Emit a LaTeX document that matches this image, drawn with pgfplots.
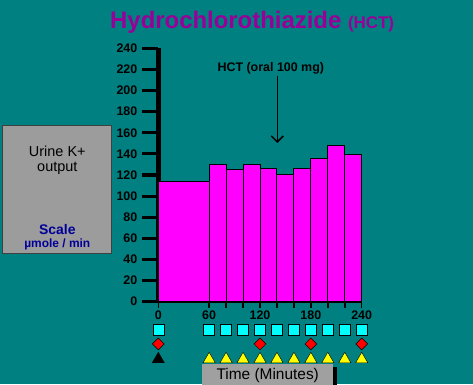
\documentclass[border=0pt]{standalone}
\usepackage{pgfplots}
\pgfplotsset{compat=1.18}
\usetikzlibrary{arrows.meta}
\usepackage{fontspec}
\setmainfont{Liberation Sans}
\definecolor{bgteal}{HTML}{008080}
\definecolor{titlepurple}{HTML}{990099}
\definecolor{barmag}{HTML}{FF00FF}
\definecolor{boxgray}{HTML}{9C9C9C}
\definecolor{timegray}{HTML}{A0A0A0}
\definecolor{scaleblue}{HTML}{000099}
\definecolor{mkcyan}{RGB}{0,255,255}
\definecolor{mkred}{RGB}{255,0,0}
\definecolor{mkyellow}{RGB}{255,255,0}
\begin{document}
\begin{tikzpicture}[x=1bp,y=1bp]
\useasboundingbox (0,0) rectangle (473,384);
\fill[bgteal] (0,0) rectangle (473,384);
% title
\node[anchor=base west, inner sep=0, text=titlepurple, font=\bfseries\fontsize{24}{24}\selectfont] at (110,355.7) {Hydrochlorothiazide {\fontsize{17}{17}\selectfont (HCT)}};
% left box
\draw[draw=black!75, fill=boxgray, line width=1bp] (2.7,131) rectangle (111,259);
\node[anchor=base, inner sep=0, font=\fontsize{14.5}{14.5}\selectfont] at (57.3,227.3) {Urine K+};
\node[anchor=base, inner sep=0, font=\fontsize{14.5}{14.5}\selectfont] at (57.3,212.3) {output};
\node[anchor=base, inner sep=0, text=scaleblue, font=\bfseries\fontsize{14}{14}\selectfont] at (57.3,150) {Scale};
\node[anchor=base, inner sep=0, text=scaleblue, font=\bfseries\fontsize{12}{12}\selectfont] at (57.3,136.3) {µmole / min};
% annotation
\node[anchor=base, inner sep=0, font=\bfseries\fontsize{12.5}{12.5}\selectfont] at (270.8,312.3) {HCT (oral 100 mg)};
\draw[line width=1.5bp, -{Straight Barb[length=6bp,width=12bp]}] (277.3,308.3) -- (277.3,241);
\begin{axis}[
  x=0.8475bp, y=1.056bp,
  anchor=south west, at={(158.3bp,82.3bp)},
  xmin=0, xmax=240, ymin=0, ymax=240,
  clip=false,
  axis x line=bottom, axis y line=left,
  axis line style={-},
  x axis line style={-, line width=3bp, black},
  y axis line style={-, line width=4.5bp, black},
  tick align=outside,
  major tick length=16.5bp,
  minor tick length=6bp,
  ytick={0,20,...,240},
  xtick={0,60,120,180,240},
  minor xtick={0,60,80,100,120,140,160,180,200,220,240},
  major x tick style={draw=none},
  minor x tick style={line width=1.5bp, black},
  y tick style={line width=3.2bp, black},
  /pgf/number format/assume math mode=true,
  tick label style={font=\bfseries\fontsize{12.5}{12.5}\selectfont, text=black},
  xticklabel style={yshift=11bp},
  yticklabel style={xshift=-1bp},
]
\addplot[ybar interval, fill=barmag, draw=black, line width=1bp] coordinates {
  (0,114) (60,130) (80,125) (100,130) (120,126) (140,120) (160,126) (180,136) (200,148) (220,139) (240,139)};
\addplot[only marks, mark=square*, mark size=5.5bp, mark options={fill=mkcyan, draw=black, line width=0.5bp}] coordinates {
  (0,-26.1) (60,-26.1) (80,-26.1) (100,-26.1) (120,-26.1) (140,-26.1) (160,-26.1) (180,-26.1) (200,-26.1) (220,-26.1) (240,-26.1)};
\addplot[only marks, mark=square*, mark size=4.2bp, mark options={rotate=45, fill=mkred, draw=black, line width=0.5bp}] coordinates {
  (0,-40) (120,-40) (180,-40) (240,-40)};
\addplot[only marks, mark=triangle*, mark size=7bp, mark options={fill=black, draw=black, line width=0.4bp}] coordinates {
  (0,-54.5)};
\addplot[only marks, mark=triangle*, mark size=7bp, mark options={fill=mkyellow, draw=black, line width=0.4bp}] coordinates {
  (60,-54.5) (80,-54.5) (100,-54.5) (120,-54.5) (140,-54.5) (160,-54.5) (180,-54.5) (200,-54.5) (220,-54.5) (240,-54.5)};
\end{axis}
% time box
\fill[black] (205.7,-5) rectangle (336.7,17.3);
\fill[timegray] (202.3,-5) rectangle (333.3,20);
\node[anchor=base, inner sep=0, font=\fontsize{15.5}{15.5}\selectfont] at (267.7,5) {Time (Minutes)};
\end{tikzpicture}
\end{document}
